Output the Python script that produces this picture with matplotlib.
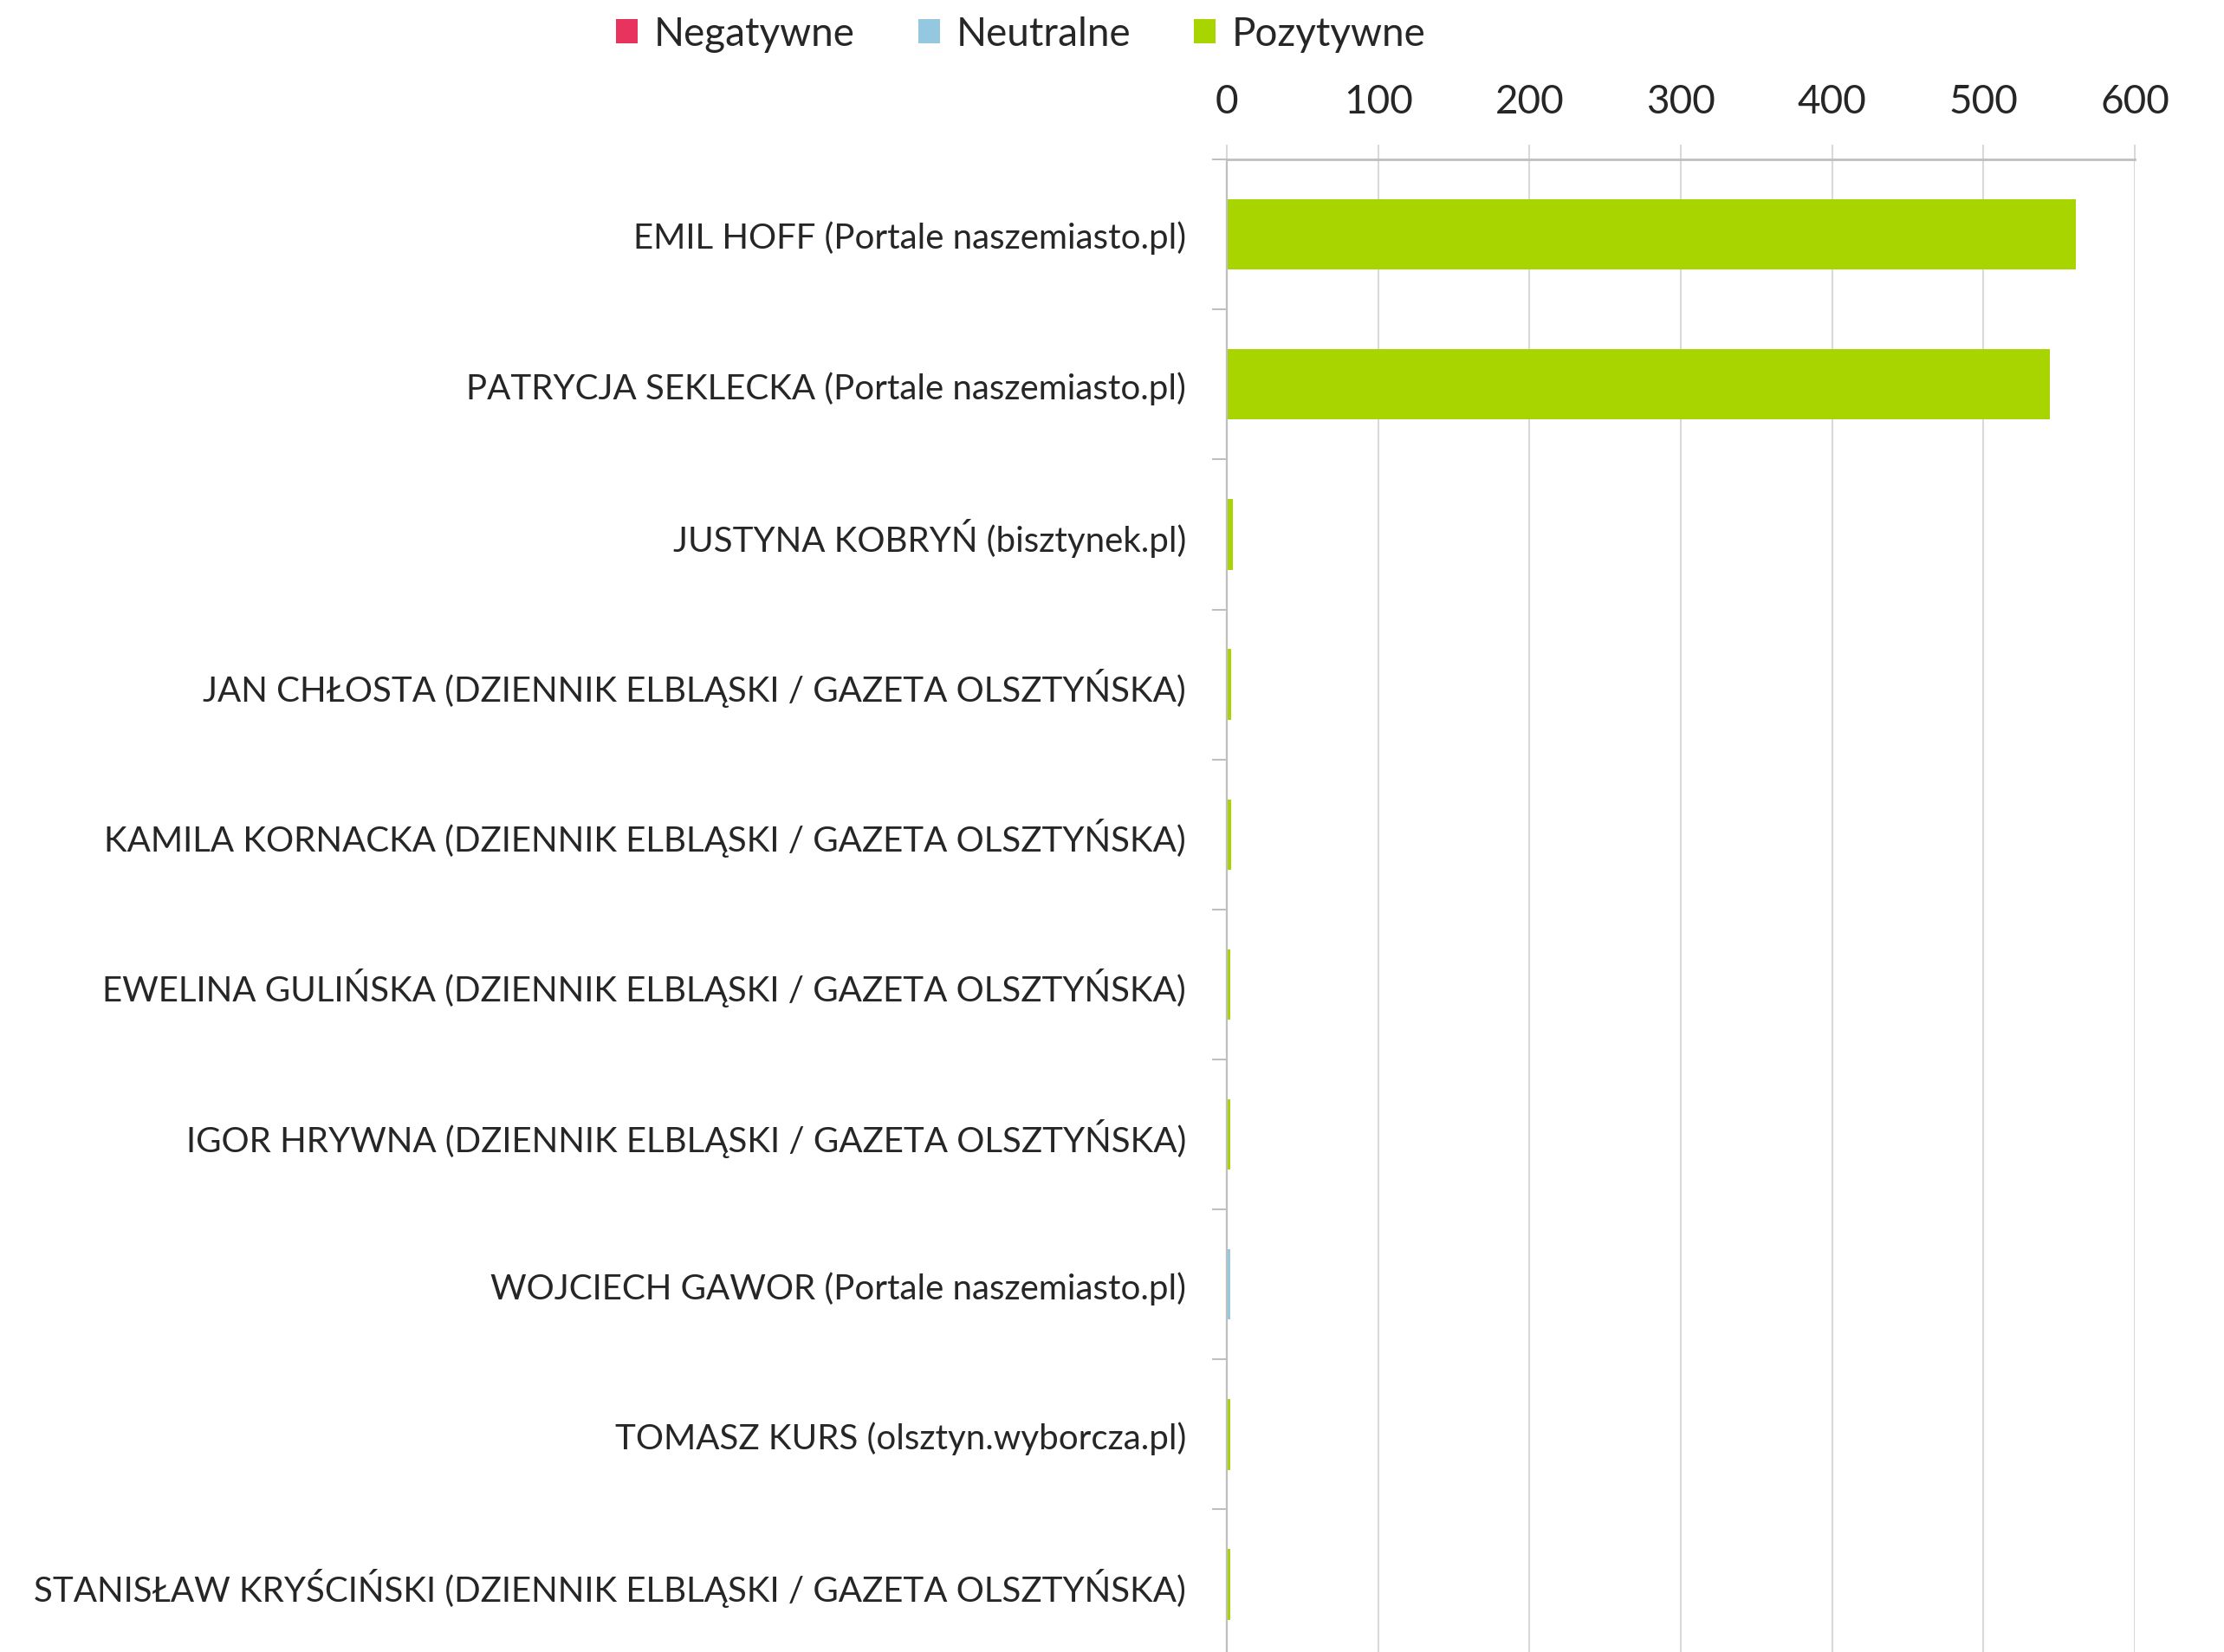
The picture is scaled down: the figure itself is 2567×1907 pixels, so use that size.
import matplotlib
matplotlib.use("Agg")
import matplotlib.pyplot as plt
import numpy as np
from matplotlib.patches import Patch

plt.rcParams["font.family"] = ["Lato", "DejaVu Sans"]

# data (top to bottom)
names = [
    "EMIL HOFF (Portale naszemiasto.pl)",
    "PATRYCJA SEKLECKA (Portale naszemiasto.pl)",
    "JUSTYNA KOBRYŃ (bisztynek.pl)",
    "JAN CHŁOSTA (DZIENNIK ELBLĄSKI / GAZETA OLSZTYŃSKA)",
    "KAMILA KORNACKA (DZIENNIK ELBLĄSKI / GAZETA OLSZTYŃSKA)",
    "EWELINA GULIŃSKA (DZIENNIK ELBLĄSKI / GAZETA OLSZTYŃSKA)",
    "IGOR HRYWNA (DZIENNIK ELBLĄSKI / GAZETA OLSZTYŃSKA)",
    "WOJCIECH GAWOR (Portale naszemiasto.pl)",
    "TOMASZ KURS (olsztyn.wyborcza.pl)",
    "STANISŁAW KRYŚCIŃSKI (DZIENNIK ELBLĄSKI / GAZETA OLSZTYŃSKA)",
]
negatywne = [0, 0, 0, 0, 0, 0, 0, 0, 0, 0]
neutralne = [0, 0, 0, 0, 0, 0, 0, 2, 0, 0]
pozytywne = [561, 544, 4, 3, 3, 2, 2, 0, 2, 2]
series_names = ["Negatywne", "Neutralne", "Pozytywne"]
x_ticks = [0, 100, 200, 300, 400, 500, 600]

colors = ["#E8335E", "#93C8E0", "#A8D400"]
text_col = "#262626"
grid_col = "#D9D9D9"
axis_col = "#BFBFBF"

fig = plt.figure(figsize=(25.67, 19.08), dpi=100)
ax = fig.add_axes([0.5517, -0.0045, 0.4082, 0.9075])

y = np.arange(len(names))
neg = np.array(negatywne)
neu = np.array(neutralne)
poz = np.array(pozytywne)
h = 0.47
ax.barh(y, neg, height=h, color=colors[0])
ax.barh(y, neu, left=neg, height=h, color=colors[1])
ax.barh(y, poz, left=neg + neu, height=h, color=colors[2])

ax.set_ylim(len(names) - 0.5, -0.5)
ax.set_xlim(0, 600)
ax.set_xticks(x_ticks)
ax.xaxis.tick_top()
ax.tick_params(axis="x", which="major", length=12, width=1.5, color=grid_col,
               pad=21, labelsize=33, labelcolor=text_col)
ax.grid(axis="x", color=grid_col, linewidth=1.5)
ax.set_axisbelow(True)

ax.set_yticks(y)
ax.set_yticklabels(names)
ax.set_yticks(np.arange(len(names) + 1) - 0.5, minor=True)
ax.tick_params(axis="y", which="major", length=0, pad=34, labelsize=29, labelcolor=text_col)
ax.tick_params(axis="y", which="minor", length=12, width=1.5, color=axis_col)

for s in ["right", "bottom"]:
    ax.spines[s].set_visible(False)
ax.spines["left"].set_color(axis_col)
ax.spines["left"].set_linewidth(1.6)
ax.spines["top"].set_color(axis_col)
ax.spines["top"].set_linewidth(2)

handles = [Patch(facecolor=c, edgecolor="none") for c in colors]
fig.legend(handles, series_names, loc="center", bbox_to_anchor=(0.459, 0.979), ncol=3,
           frameon=False, fontsize=33, handlelength=0.55, handleheight=0.55,
           handletextpad=0.4, columnspacing=1.6, labelcolor=text_col)

fig.savefig("out.png", dpi=100, facecolor="white")
